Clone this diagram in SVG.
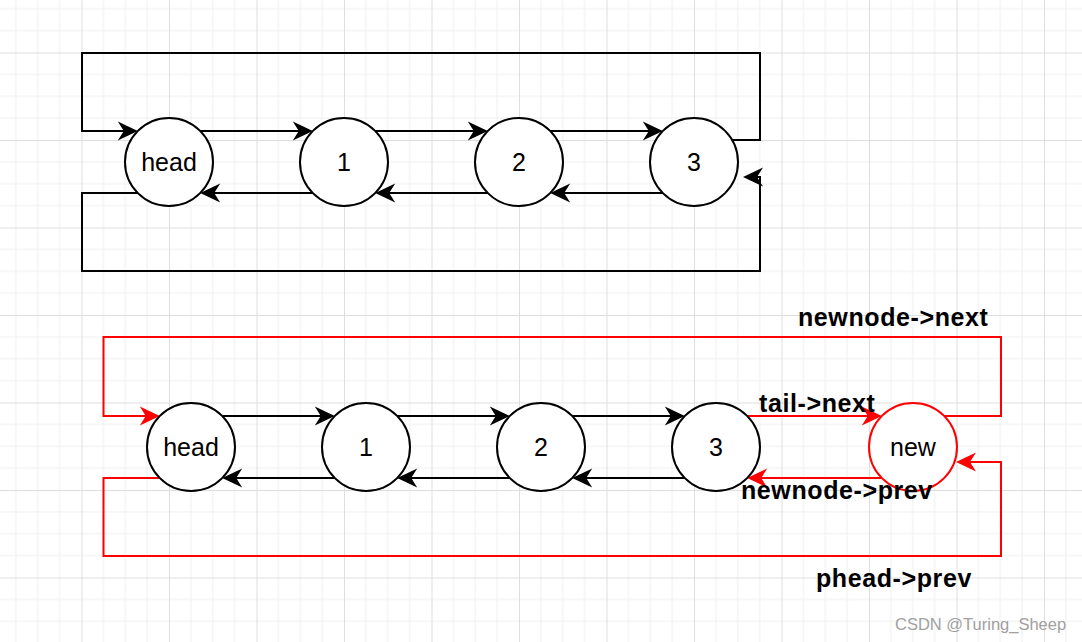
<svg xmlns="http://www.w3.org/2000/svg" width="1082" height="642" viewBox="0 0 1082 642">
<defs>
<style>
.node{fill:#fff;stroke:#000;stroke-width:2}
.nodeR{fill:#fff;stroke:#ff0000;stroke-width:2}
.nt{font-family:"Liberation Sans",Arial,sans-serif;font-size:25px;fill:#000;text-anchor:middle}
.e{fill:none;stroke:#000;stroke-width:2;marker-end:url(#ab)}
.er{fill:none;stroke:#ff0000;stroke-width:2;marker-end:url(#ar)}
.lb{font-family:"Liberation Sans",Arial,sans-serif;font-size:25px;font-weight:bold;fill:#000;letter-spacing:0.6px}
.wm{font-family:"Liberation Sans",Arial,sans-serif;font-size:16.5px;fill:#a0a0a0}
</style>
<pattern id="grid" patternUnits="userSpaceOnUse" x="-6" y="-35" width="87.5" height="87.5">
<path d="M21.875 0V87.5M43.75 0V87.5M65.625 0V87.5M0 21.875H87.5M0 43.75H87.5M0 65.625H87.5" stroke="#f0f0f0" stroke-width="1" fill="none"/>
<path d="M0.5 0V87.5M0 0.5H87.5" stroke="#dedede" stroke-width="1" fill="none"/>
</pattern>
<marker id="ab" markerUnits="userSpaceOnUse" orient="auto" markerWidth="22" markerHeight="22" viewBox="-15 -10 22 20" refX="0" refY="0" overflow="visible">
<path d="M6,0 L-14,-9.5 L-8,0 L-14,9.5 Z" fill="#000"/>
</marker>
<marker id="ar" markerUnits="userSpaceOnUse" orient="auto" markerWidth="22" markerHeight="22" viewBox="-15 -10 22 20" refX="0" refY="0" overflow="visible">
<path d="M6,0 L-14,-9.5 L-8,0 L-14,9.5 Z" fill="#ff0000"/>
</marker>
</defs>
<rect width="1082" height="642" fill="#ffffff"/>
<rect width="1082" height="642" fill="url(#grid)"/>

<g id="connectors">
<!-- top diagram -->
<path class="e" d="M200.2 131H306.8"/>
<path class="e" d="M375.2 131H481.8"/>
<path class="e" d="M550.2 131H656.8"/>
<path class="e" d="M662.8 193H556.2"/>
<path class="e" d="M487.8 193H381.2"/>
<path class="e" d="M312.8 193H206.2"/>
<path class="e" d="M732.1 140H760V53H82V131H131.8"/>
<path class="e" d="M137.8 193H82V271H760V177H749"/>
<!-- bottom diagram -->
<path class="e" d="M222.2 416H328.8"/>
<path class="e" d="M397.2 416H503.8"/>
<path class="e" d="M572.2 416H678.8"/>
<path class="e" d="M684.8 478H578.2"/>
<path class="e" d="M509.8 478H403.2"/>
<path class="e" d="M334.8 478H228.2"/>
<path class="er" d="M747.2 416H875.8"/>
<path class="er" d="M881.8 478H753.2"/>
<path class="er" d="M944.2 416H1001V337H103.5V416H153.8"/>
<path class="er" d="M159.8 478H103.5V556H1001V462H962"/>
</g>

<g id="node-head-top"><circle class="node" cx="169" cy="162" r="44"/><text class="nt" x="169" y="171">head</text></g>
<g id="node-1-top"><circle class="node" cx="344" cy="162" r="44"/><text class="nt" x="344" y="171">1</text></g>
<g id="node-2-top"><circle class="node" cx="519" cy="162" r="44"/><text class="nt" x="519" y="171">2</text></g>
<g id="node-3-top"><circle class="node" cx="694" cy="162" r="44"/><text class="nt" x="694" y="171">3</text></g>

<g id="node-head-bottom"><circle class="node" cx="191" cy="447" r="44"/><text class="nt" x="191" y="456">head</text></g>
<g id="node-1-bottom"><circle class="node" cx="366" cy="447" r="44"/><text class="nt" x="366" y="456">1</text></g>
<g id="node-2-bottom"><circle class="node" cx="541" cy="447" r="44"/><text class="nt" x="541" y="456">2</text></g>
<g id="node-3-bottom"><circle class="node" cx="716" cy="447" r="44"/><text class="nt" x="716" y="456">3</text></g>
<g id="node-new"><circle class="nodeR" cx="913" cy="447" r="44"/><text class="nt" x="913" y="456">new</text></g>

<g id="labels">
<text class="lb" x="798" y="326">newnode-&gt;next</text>
<text class="lb" x="759" y="412">tail-&gt;next</text>
<text class="lb" x="741" y="499">newnode-&gt;prev</text>
<text class="lb" x="816" y="587">phead-&gt;prev</text>
</g>

<text class="wm" x="895" y="630">CSDN @Turing_Sheep</text>
</svg>
